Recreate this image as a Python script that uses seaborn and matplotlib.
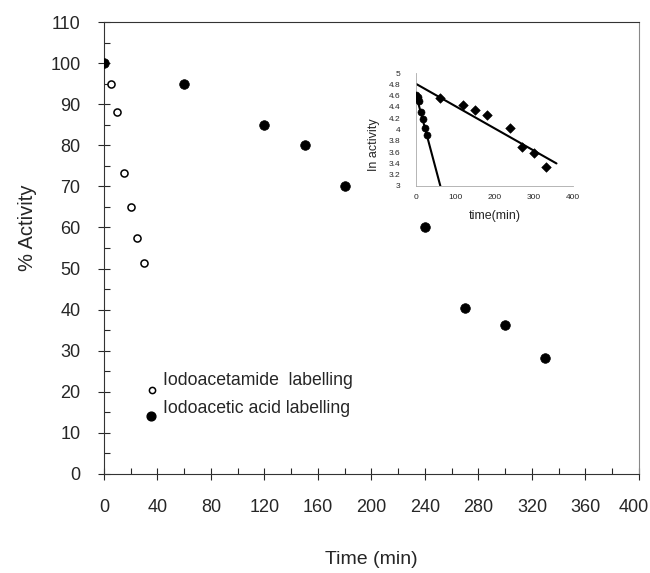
import numpy as np
import pandas as pd
import seaborn as sns
import matplotlib.pyplot as plt
from matplotlib.ticker import MultipleLocator, FixedLocator
from matplotlib.transforms import ScaledTranslation

# --- data ---
amide_time = [0, 5, 10, 15, 20, 25, 30]
amide_act = [100, 95, 88, 73.2, 65, 57.5, 51.3]

acid_time = [0, 60, 120, 150, 180, 240, 270, 300, 330]
acid_act = [100, 95, 85, 80, 70, 60, 40.4, 36.3, 28.3]

# inset: ln(activity)
inset_circ_time = [0, 4, 8, 13, 19, 22, 27]
inset_circ_ln = [4.62, 4.58, 4.50, 4.31, 4.18, 4.02, 3.91]
inset_dia_time = [60, 120, 150, 180, 240, 270, 300, 330]
inset_dia_ln = [4.56, 4.44, 4.34, 4.25, 4.03, 3.69, 3.58, 3.33]

# fitted lines in the inset (intercept, slope, last x)
fast_fit = (4.62, -0.0261, 62)
slow_fit = (4.81, -0.00394, 358)

x_ticks = [0, 40, 80, 120, 160, 200, 240, 280, 320, 360, 400]

sns.set_style("ticks")
plt.rcParams['font.family'] = ['Liberation Sans', 'DejaVu Sans']

fig = plt.figure(figsize=(6.5, 5.73), dpi=100)
ax = fig.add_axes([0.16, 0.1728, 0.823, 0.7888])

df_amide = pd.DataFrame({'t': amide_time, 'a': amide_act})
df_acid = pd.DataFrame({'t': acid_time, 'a': acid_act})

sns.scatterplot(data=df_amide, x='t', y='a', ax=ax, marker='o', s=26,
                facecolor='white', edgecolor='black', linewidth=1.1, zorder=3)
sns.scatterplot(data=df_acid, x='t', y='a', ax=ax, marker='o', s=48,
                color='black', edgecolor='black', linewidth=0.5, zorder=4)

ax.set_xlim(0, 400)
ax.set_ylim(0, 110)
ax.xaxis.set_major_locator(FixedLocator(x_ticks))
ax.xaxis.set_minor_locator(MultipleLocator(20))
ax.yaxis.set_major_locator(MultipleLocator(10))
ax.yaxis.set_minor_locator(MultipleLocator(5))
ax.tick_params(axis='x', which='major', direction='inout', length=8, width=0.8,
               pad=14, labelsize=13)
ax.tick_params(axis='x', which='minor', direction='in', length=4, width=0.8)
ax.tick_params(axis='y', which='major', direction='inout', length=8, width=0.8,
               pad=13, labelsize=13)
ax.tick_params(axis='y', which='minor', direction='in', length=4, width=0.8)
for s in ax.spines.values():
    s.set_linewidth(0.8)
    s.set_color('#333333')
ax.spines['right'].set_color('#888888')

ax.set_xlabel('Time (min)', fontsize=14, labelpad=25)
ax.set_ylabel('% Activity', fontsize=14.5)
ax.yaxis.set_label_coords(-0.125, 0.545)

# keep the last tick label ("400") inside the figure, as in the original
last = ax.xaxis.get_major_ticks()[len(x_ticks) - 1].label1
last.set_transform(last.get_transform() + ScaledTranslation(-5 / 100, 0, fig.dpi_scale_trans))

# legend drawn like the original (markers + text)
ax.scatter([36], [20.5], s=20, facecolor='white', edgecolor='black', linewidth=1.1,
           zorder=5)
ax.scatter([35], [14.2], s=40, color='black', zorder=5)
ax.text(44, 22.7, 'Iodoacetamide  labelling', fontsize=12.7, va='center')
ax.text(44, 15.9, 'Iodoacetic acid labelling', fontsize=12.7, va='center')

# --- inset ---
ins = fig.add_axes([0.64, 0.6754, 0.2415, 0.197])
sns.scatterplot(x=inset_dia_time, y=inset_dia_ln, ax=ins, marker='D', s=24,
                color='black', edgecolor='black', zorder=3)
sns.scatterplot(x=inset_circ_time, y=inset_circ_ln, ax=ins, marker='o', s=26,
                color='black', edgecolor='black', zorder=3)
for b0, b1, xend in (fast_fit, slow_fit):
    xs = np.array([0, xend])
    ins.plot(xs, b0 + b1 * xs, color='black', lw=1.5, zorder=2)

ins.set_xlim(0, 400)
ins.set_ylim(3, 5)
ins.set_xticks([0, 100, 200, 300, 400])
ins.set_yticks([3, 3.2, 3.4, 3.6, 3.8, 4, 4.2, 4.4, 4.6, 4.8, 5])
ins.set_yticklabels(['3', '3.2', '3.4', '3.6', '3.8', '4', '4.2', '4.4', '4.6',
                     '4.8', '5'])
ins.tick_params(axis='x', labelsize=6, length=0, pad=6)
ins.tick_params(axis='y', labelsize=6, length=0, pad=11)
ins.set_xlabel('time(min)', fontsize=9, labelpad=6)
ins.set_ylabel('In activity', fontsize=9)
ins.yaxis.set_label_coords(-0.23, 0.37)
ins.patch.set_alpha(0)
for side in ('top', 'right'):
    ins.spines[side].set_visible(False)
for side in ('left', 'bottom'):
    ins.spines[side].set_color('#aaaaaa')
    ins.spines[side].set_linewidth(0.6)

fig.savefig('out.png', dpi=100)
